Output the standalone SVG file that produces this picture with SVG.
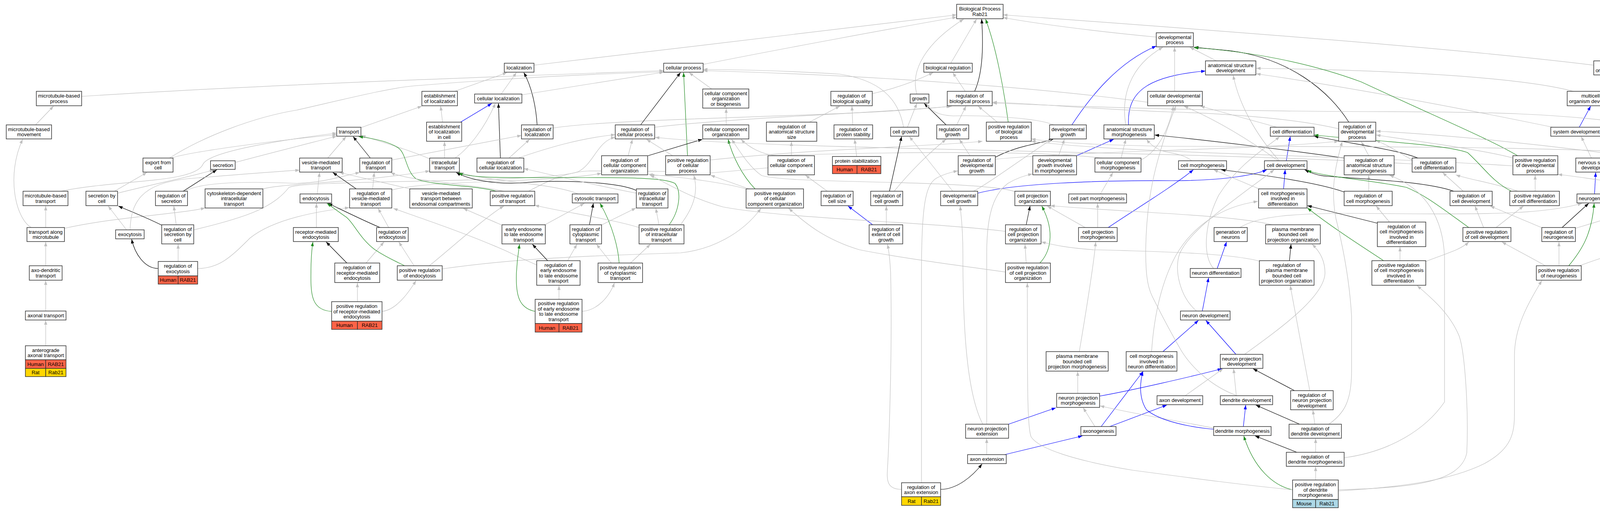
<svg xmlns="http://www.w3.org/2000/svg" width="4517" height="1312" viewBox="0 0 4517 1312">
<style>
text{font-family:"Liberation Sans",Arial,sans-serif;font-size:13px;text-anchor:middle;fill:#000}
.n rect{fill:#fff;stroke:#333;stroke-width:1.5}
.n rect.h{fill:#ff6347}
.n rect.r{fill:#ffd700}
.n rect.m{fill:#add8e6}
#edges path{fill:none;stroke-width:1.2}
#edges .e{stroke:#c0c0c0;marker-end:url(#ag)}
#edges .k{stroke:#000;marker-end:url(#ak)}
#edges .g{stroke:#228b22;marker-end:url(#agr)}
#edges .b{stroke:#0000ff;marker-end:url(#ab)}
</style>
<defs>
<marker id="ag" viewBox="0 0 11 8" refX="11" refY="4" markerWidth="11" markerHeight="8" markerUnits="userSpaceOnUse" orient="auto"><path d="M0,0L11,4L0,8z" fill="#c0c0c0"/></marker>
<marker id="ak" viewBox="0 0 11 8" refX="11" refY="4" markerWidth="11" markerHeight="8" markerUnits="userSpaceOnUse" orient="auto"><path d="M0,0L11,4L0,8z" fill="#000"/></marker>
<marker id="agr" viewBox="0 0 11 8" refX="11" refY="4" markerWidth="11" markerHeight="8" markerUnits="userSpaceOnUse" orient="auto"><path d="M0,0L11,4L0,8z" fill="#228b22"/></marker>
<marker id="ab" viewBox="0 0 11 8" refX="11" refY="4" markerWidth="11" markerHeight="8" markerUnits="userSpaceOnUse" orient="auto"><path d="M0,0L11,4L0,8z" fill="#0000ff"/></marker>
</defs>
<rect width="4517" height="1312" fill="#fff"/>
<g id="edges">
<path class="e" d="M209,247 C700,215 1400,192 1699,181"/>
<path class="e" d="M91,320 L137,272"/>
<path class="e" d="M80,583 C40,560 15,450 58,357"/>
<path class="e" d="M117,583 L117,528"/>
<path class="e" d="M165,585 C300,555 450,550 525,533"/>
<path class="e" d="M117,681 L117,620"/>
<path class="e" d="M117,797 L117,719"/>
<path class="e" d="M117,886 L117,821"/>
<path class="e" d="M324,589 L277,528"/>
<path class="k" d="M414,577 C370,555 330,540 303,528"/>
<path class="e" d="M451,576 L445,528"/>
<path class="e" d="M456,670 L456,626"/>
<path class="k" d="M405,688 C370,688 345,650 337,613"/>
<path class="e" d="M506,688 C560,688 590,660 640,610 C690,570 780,545 894,532"/>
<path class="e" d="M496,589 C640,555 700,530 740,480 C780,460 1400,470 1480,440 C1520,420 1530,360 1575,352"/>
<path class="k" d="M469,490 L555,435"/>
<path class="e" d="M475,489 C520,465 650,465 760,470 C830,468 880,450 921,442"/>
<path class="e" d="M293,490 L376,442"/>
<path class="e" d="M301,495 C400,470 500,450 548,435"/>
<path class="e" d="M434,405 C520,350 650,300 760,282 C900,250 1000,225 1060,220 C1300,200 1500,190 1699,184"/>
<path class="e" d="M439,405 C480,390 700,360 862,345"/>
<path class="e" d="M603,416 C700,390 800,365 862,349"/>
<path class="e" d="M333,589 C335,520 360,470 480,458 C600,448 700,440 767,436"/>
<path class="e" d="M155,490 C300,460 500,470 520,420 C540,385 750,355 862,341"/>
<path class="e" d="M673,484 C720,470 900,470 1100,438"/>
<path class="e" d="M1164,234 L1298,186"/>
<path class="e" d="M1283,241 L1322,186"/>
<path class="k" d="M1375,320 C1372,270 1360,220 1341,186"/>
<path class="e" d="M1416,328 C1600,300 2200,300 2434,272"/>
<path class="e" d="M1367,167 C1700,130 2200,65 2449,38"/>
<path class="e" d="M1336,243 C1450,225 1600,200 1699,185"/>
<path class="e" d="M924,327 L1080,272"/>
<path class="e" d="M1133,313 L1128,272"/>
<path class="b" d="M1179,313 L1259,265"/>
<path class="e" d="M1138,405 L1138,363"/>
<path class="e" d="M1165,405 C1200,380 1240,330 1268,265"/>
<path class="e" d="M1100,407 C1050,385 980,365 925,347"/>
<path class="k" d="M1281,405 L1276,265"/>
<path class="e" d="M1303,405 L1356,357"/>
<path class="e" d="M1329,404 C1400,380 1480,355 1575,345"/>
<path class="e" d="M839,405 L886,350"/>
<path class="k" d="M948,405 L904,350"/>
<path class="e" d="M1003,410 L1335,347"/>
<path class="e" d="M812,497 L818,442"/>
<path class="k" d="M912,484 L852,442"/>
<path class="e" d="M954,484 L958,442"/>
<path class="e" d="M1003,487 C1100,460 1400,470 1540,444"/>
<path class="e" d="M1050,484 L869,442"/>
<path class="g" d="M1271,490 C1220,475 1100,475 1065,458 C1040,440 1040,395 1021,380 C1000,365 960,355 918,350"/>
<path class="e" d="M1290,490 C1200,470 1050,465 1000,442"/>
<path class="e" d="M1353,490 C1400,465 1450,440 1510,438 C1650,438 1750,440 1818,440"/>
<path class="e" d="M1480,497 C1420,470 1250,465 1176,442"/>
<path class="e" d="M810,583 L810,521"/>
<path class="k" d="M973,583 C930,565 880,540 840,521"/>
<path class="e" d="M995,583 L968,534"/>
<path class="e" d="M1283,576 L1186,534"/>
<path class="e" d="M1395,576 L1496,521"/>
<path class="k" d="M1509,576 L1519,521"/>
<path class="e" d="M1541,576 L1628,533"/>
<path class="k" d="M888,674 L835,620"/>
<path class="e" d="M937,674 L983,620"/>
<path class="g" d="M849,798 C800,795 795,760 796,700 C796,660 798,640 801,620"/>
<path class="e" d="M915,773 L915,725"/>
<path class="e" d="M978,798 C1010,795 1040,760 1065,719"/>
<path class="g" d="M1036,681 C1010,668 990,660 960,640 C920,610 905,570 886,556 C870,545 850,530 837,521"/>
<path class="e" d="M1060,681 L1021,620"/>
<path class="e" d="M1099,681 C1150,640 1250,550 1290,528"/>
<path class="e" d="M1132,689 C1300,665 1450,657 1742,648 C1820,640 1900,600 1948,534"/>
<path class="k" d="M1402,668 L1363,626"/>
<path class="e" d="M1453,668 L1477,626"/>
<path class="e" d="M1374,679 C1350,668 1330,660 1300,645 C1200,600 1080,560 1007,534"/>
<path class="g" d="M1370,798 C1330,790 1320,760 1322,700 C1324,660 1328,640 1330,626"/>
<path class="e" d="M1431,767 L1431,732"/>
<path class="e" d="M1490,798 C1530,795 1560,760 1573,725"/>
<path class="g" d="M1585,674 C1583,640 1570,580 1536,521"/>
<path class="e" d="M1565,674 L1527,626"/>
<path class="e" d="M1614,674 L1665,626"/>
<path class="k" d="M1629,488 C1580,465 1420,460 1332,469 C1260,472 1200,460 1168,442"/>
<path class="e" d="M1629,495 C1500,470 1400,445 1341,432"/>
<path class="g" d="M1713,576 C1740,540 1745,490 1728,470 C1700,455 1600,455 1500,455 C1300,455 1200,458 1174,442"/>
<path class="e" d="M1687,576 L1679,534"/>
<path class="e" d="M1636,583 C1560,560 1450,545 1369,526"/>
<path class="e" d="M1742,576 C1785,520 1785,480 1776,449"/>
<path class="e" d="M1800,165 C2000,125 2300,70 2449,44"/>
<path class="e" d="M1822,228 L1764,186"/>
<path class="k" d="M1640,320 L1742,186"/>
<path class="g" d="M1760,399 L1750,186"/>
<path class="e" d="M1859,320 L1859,278"/>
<path class="k" d="M1659,399 L1798,357"/>
<path class="e" d="M1608,399 L1619,357"/>
<path class="e" d="M1722,399 L1655,357"/>
<path class="g" d="M1933,484 C1900,450 1875,400 1864,357"/>
<path class="e" d="M1910,484 C1860,470 1760,455 1660,447"/>
<path class="e" d="M1917,484 L1819,449"/>
<path class="e" d="M2072,313 L2150,272"/>
<path class="e" d="M2183,320 L2181,272"/>
<path class="e" d="M2193,401 L2188,357"/>
<path class="e" d="M2026,399 L2026,363"/>
<path class="e" d="M1966,430 C1850,440 1720,455 1664,448"/>
<path class="e" d="M2118,490 L2062,449"/>
<path class="b" d="M2234,576 L2171,528"/>
<path class="e" d="M1676,326 C1900,300 2250,290 2437,272"/>
<path class="e" d="M1818,410 C2100,380 2400,375 2515,362"/>
<path class="e" d="M2434,162 L2500,49"/>
<path class="e" d="M2471,234 L2439,186"/>
<path class="e" d="M2233,240 C2300,225 2350,205 2389,186"/>
<path class="e" d="M2347,241 C2330,180 2370,110 2467,49"/>
<path class="k" d="M2495,234 C2515,190 2518,120 2513,49"/>
<path class="g" d="M2581,313 C2570,230 2550,120 2523,49"/>
<path class="e" d="M2323,326 L2347,265"/>
<path class="e" d="M2313,326 C2300,250 2250,205 2150,190 C2000,180 1850,178 1800,178"/>
<path class="k" d="M2422,320 L2366,265"/>
<path class="e" d="M2449,320 L2473,272"/>
<path class="e" d="M2553,313 L2504,272"/>
<path class="e" d="M2698,320 C2650,300 2500,295 2440,297 C2400,295 2385,285 2371,265"/>
<path class="b" d="M2744,320 C2790,250 2860,160 2960,118"/>
<path class="b" d="M2889,320 C2885,240 2930,195 3086,182"/>
<path class="e" d="M2882,320 C2870,250 2890,170 2977,121"/>
<path class="e" d="M2483,399 L2456,357"/>
<path class="k" d="M2548,403 C2600,375 2650,370 2696,357"/>
<path class="e" d="M2548,408 C2800,385 3200,385 3427,362"/>
<path class="e" d="M2710,399 L2725,357"/>
<path class="b" d="M2756,399 L2851,357"/>
<path class="e" d="M2870,405 L2882,357"/>
<path class="e" d="M2822,405 C2600,380 2100,395 1990,398 C1950,398 1915,375 1897,357"/>
<path class="e" d="M2921,410 C2960,390 2990,340 3004,272"/>
<path class="e" d="M2439,490 L2328,350"/>
<path class="e" d="M2492,490 C2530,470 2590,425 2692,357"/>
<path class="b" d="M2503,495 C2600,470 2800,462 3000,463 C3150,463 3220,445 3243,435"/>
<path class="e" d="M2601,492 C2560,476 2400,470 2260,467 C2050,462 1985,459 1950,450 C1920,430 1895,390 1873,357"/>
<path class="e" d="M2817,497 L2849,442"/>
<path class="k" d="M2627,576 L2637,528"/>
<path class="e" d="M2574,593 C2400,570 2000,560 1850,530 C1760,505 1700,465 1664,449"/>
<path class="e" d="M2810,583 L2810,521"/>
<path class="e" d="M2778,583 L2681,528"/>
<path class="b" d="M2837,583 C2900,540 3000,480 3055,435"/>
<path class="g" d="M2662,674 C2685,650 2705,600 2667,528"/>
<path class="e" d="M2627,674 L2624,626"/>
<path class="e" d="M2574,697 C2450,680 2300,660 2200,640 C2100,610 2050,560 2019,534"/>
<path class="e" d="M2763,901 C2780,800 2800,680 2805,620"/>
<path class="e" d="M2948,901 C2955,800 2975,720 3010,655 C3050,585 3120,530 3220,516"/>
<path class="b" d="M2977,901 L3068,821"/>
<path class="e" d="M2759,1008 L2759,952"/>
<path class="b" d="M2815,1015 C2900,1000 3050,965 3128,945"/>
<path class="e" d="M3034,1014 L3131,945"/>
<path class="b" d="M2582,1087 L2703,1045"/>
<path class="e" d="M2516,1087 C2470,1000 2465,800 2465,650 C2465,580 2460,550 2458,528"/>
<path class="e" d="M2526,1087 L2526,650 C2526,560 2540,500 2580,470 C2600,458 2620,450 2643,446"/>
<path class="e" d="M2803,1093 L2773,1045"/>
<path class="b" d="M2841,1093 L2987,1038"/>
<path class="b" d="M2819,1093 L2926,952"/>
<path class="e" d="M2526,1165 L2526,1124"/>
<path class="b" d="M2572,1165 L2771,1117"/>
<path class="k" d="M2408,1254 C2450,1254 2490,1220 2514,1189"/>
<path class="e" d="M2359,1237 L2359,700 C2359,520 2370,470 2400,455 C2420,445 2440,440 2452,438"/>
<path class="e" d="M2308,1254 C2270,1254 2270,1230 2272,1200 C2275,1150 2285,900 2280,700 C2278,660 2275,640 2272,626"/>
<path class="e" d="M2960,95 C2800,80 2650,60 2568,45"/>
<path class="e" d="M4080,167 C3700,120 3000,70 2568,38"/>
<path class="e" d="M3114,156 L3046,121"/>
<path class="e" d="M3007,234 L3007,121"/>
<path class="e" d="M2938,262 C2700,230 2300,195 1800,181"/>
<path class="e" d="M3269,326 L3073,272"/>
<path class="k" d="M3453,313 C3400,230 3300,150 3150,130 C3100,125 3070,122 3057,121"/>
<path class="e" d="M3427,330 C3300,300 3100,290 3000,287 C2800,280 2650,265 2541,262"/>
<path class="e" d="M3051,412 C3030,395 3000,393 2980,388 C2960,382 2945,370 2935,357"/>
<path class="b" d="M3293,412 L3303,350"/>
<path class="e" d="M3272,412 C3200,360 3120,310 3031,272"/>
<path class="e" d="M3275,412 C3210,340 3170,260 3157,193"/>
<path class="k" d="M3441,405 C3300,385 3100,360 2956,346"/>
<path class="e" d="M3504,399 L3485,363"/>
<path class="k" d="M3630,405 C3580,385 3500,375 3364,349"/>
<path class="e" d="M3615,410 C3580,390 3550,370 3522,360"/>
<path class="e" d="M3615,420 C3000,385 2000,385 1677,352"/>
<path class="b" d="M3286,484 L3290,435"/>
<path class="e" d="M3223,484 L3107,435"/>
<path class="k" d="M3441,492 C3380,470 3250,450 3126,435"/>
<path class="e" d="M3504,490 L3504,449"/>
<path class="k" d="M3722,490 C3654,467 3533,461 3400,452 C3370,450 3355,442 3340,435"/>
<path class="e" d="M3746,490 L3693,442"/>
<path class="e" d="M3174,583 C3220,555 3300,545 3500,547 C3800,550 3950,550 4050,521"/>
<path class="e" d="M3257,576 C3150,550 2900,545 2689,527"/>
<path class="k" d="M3526,572 L3347,527"/>
<path class="e" d="M3557,569 L3523,528"/>
<path class="g" d="M3760,583 C3700,540 3650,500 3600,480 C3500,460 3400,455 3346,437"/>
<path class="e" d="M3798,583 L3776,528"/>
<path class="e" d="M3830,583 L3900,528"/>
<path class="b" d="M3116,688 L3140,620"/>
<path class="e" d="M3107,688 C3080,660 3080,580 3120,500 C3170,420 3240,380 3276,350"/>
<path class="k" d="M3301,668 L3305,626"/>
<path class="e" d="M3224,669 C3150,650 3000,645 2800,640 C2730,635 2700,628 2666,620"/>
<path class="g" d="M3542,668 C3500,640 3420,590 3347,533"/>
<path class="e" d="M3584,668 L3584,633"/>
<path class="e" d="M3650,670 C3700,650 3740,640 3760,620"/>
<path class="b" d="M3078,797 L3094,712"/>
<path class="e" d="M3063,797 C3020,760 3005,690 3020,650 C3045,590 3150,520 3262,435"/>
<path class="b" d="M3164,908 L3087,821"/>
<path class="e" d="M3186,908 C3280,840 3390,760 3392,700 C3392,670 3380,645 3359,626"/>
<path class="e" d="M3165,1014 L3158,945"/>
<path class="e" d="M3167,1014 C3100,990 3050,940 3025,900 C3000,857 2970,800 2950,760 C2935,730 2933,690 2933,640 C2935,500 2960,420 2985,340 C2995,310 3003,290 3010,272"/>
<path class="k" d="M3314,1001 L3208,945"/>
<path class="e" d="M3353,1001 L3303,732"/>
<path class="b" d="M3183,1093 L3189,1038"/>
<path class="e" d="M3107,1097 C3050,1085 2900,1060 2816,1040"/>
<path class="b" d="M3107,1100 C3050,1095 2970,1080 2935,1050 C2915,1020 2918,980 2926,952"/>
<path class="k" d="M3327,1087 L3215,1038"/>
<path class="e" d="M3366,1087 L3361,1051"/>
<path class="e" d="M3402,1087 C3440,1060 3460,1030 3460,950 L3460,810 C3455,720 3440,640 3420,560 C3405,480 3420,420 3436,363"/>
<path class="k" d="M3320,1159 L3213,1117"/>
<path class="e" d="M3368,1159 L3368,1124"/>
<path class="e" d="M3441,1173 C3560,1157 3650,1100 3698,1030 L3698,660 C3695,560 3650,484 3557,449"/>
<path class="g" d="M3309,1255 C3260,1245 3210,1200 3184,1117"/>
<path class="e" d="M3368,1230 L3368,1196"/>
<path class="e" d="M3309,1255 C3200,1245 3050,1225 2900,1205 C2750,1180 2660,1150 2640,1120 C2630,1100 2630,1000 2630,725"/>
<path class="e" d="M3426,1255 C3600,1250 3740,1240 3755,1160 C3760,1050 3750,900 3735,860 C3710,800 3660,760 3628,732"/>
<path class="e" d="M3426,1258 C3600,1248 3720,1228 3800,1188 C3870,1150 3877,1110 3877,1060 L3877,912 C3877,840 3910,780 3947,719"/>
<path class="e" d="M4096,234 L4128,193"/>
<path class="e" d="M4028,234 C3900,200 3600,180 3216,175"/>
<path class="b" d="M4043,326 L4072,272"/>
<path class="e" d="M3975,326 C3800,290 3500,230 3216,189"/>
<path class="k" d="M4242,313 L4157,193"/>
<path class="e" d="M4197,320 C4000,290 3800,286 3500,286 C3000,284 2700,270 2541,264"/>
<path class="e" d="M3874,405 C3800,385 3650,365 3523,346"/>
<path class="g" d="M3885,399 C3820,360 3700,310 3485,210 C3350,160 3200,132 3056,122"/>
<path class="e" d="M3873,425 C3400,395 2900,395 2640,362"/>
<path class="e" d="M4074,405 L4048,350"/>
<path class="k" d="M4215,399 C4190,380 4160,340 4101,272"/>
<path class="e" d="M4259,399 L4259,363"/>
<path class="e" d="M4183,402 C3950,370 3700,345 3523,336"/>
<path class="g" d="M4422,399 C4380,330 4300,260 4179,193"/>
<path class="e" d="M4385,399 L4314,363"/>
<path class="e" d="M4378,403 C4100,375 3500,375 3000,375 C2800,372 2700,365 2640,356"/>
<path class="e" d="M3886,490 C3830,470 3760,460 3727,448"/>
<path class="g" d="M3869,490 C3820,465 3800,430 3757,391 C3700,370 3500,360 3364,346"/>
<path class="e" d="M3930,490 L3930,449"/>
<path class="b" d="M4082,497 L4085,442"/>
<path class="k" d="M4221,484 L4137,444"/>
<path class="e" d="M4268,484 L4264,449"/>
<path class="k" d="M3999,583 L4067,521"/>
<path class="e" d="M4033,585 L4220,529"/>
<path class="e" d="M3946,583 L3815,528"/>
<path class="e" d="M4273,576 L4273,534"/>
<path class="g" d="M4314,576 C4350,530 4360,480 4330,462 C4300,455 4200,455 4137,443"/>
<path class="e" d="M4334,579 C4380,550 4420,500 4433,449"/>
<path class="e" d="M4239,576 C4200,520 4180,470 4100,462 C4050,455 4020,450 3988,447"/>
<path class="e" d="M3991,681 L3991,620"/>
<path class="g" d="M4016,681 C4050,640 4075,600 4081,521"/>
<path class="e" d="M4043,681 C4100,660 4180,635 4213,623"/>
<path class="e" d="M3956,681 C3920,660 3880,640 3845,620"/>
<path class="k" d="M2277,490 L2308,350"/>
<path class="e" d="M2289,490 C2330,440 2380,390 2422,357"/>
<path class="e" d="M2269,576 L2269,528"/>
</g>
<g id="n1" class="n"><rect x="93" y="234" width="116" height="37"/><text x="151" y="250.25"><tspan x="151">microtubule-based</tspan><tspan x="151" dy="13.5">process</tspan></text></g>
<g id="n2" class="n"><rect x="16" y="320" width="116" height="36"/><text x="74" y="335.75"><tspan x="74">microtubule-based</tspan><tspan x="74" dy="13.5">movement</tspan></text></g>
<g id="n3" class="n"><rect x="366" y="405" width="77" height="36"/><text x="404.5" y="420.75"><tspan x="404.5">export from</tspan><tspan x="404.5" dy="13.5">cell</tspan></text></g>
<g id="n4" class="n"><rect x="539" y="412" width="63" height="22"/><text x="570.5" y="427.5">secretion</text></g>
<g id="n5" class="n"><rect x="59" y="490" width="115" height="37"/><text x="116.5" y="506.25"><tspan x="116.5">microtubule-based</tspan><tspan x="116.5" dy="13.5">transport</tspan></text></g>
<g id="n6" class="n"><rect x="220" y="490" width="81" height="37"/><text x="260.5" y="506.25"><tspan x="260.5">secretion by</tspan><tspan x="260.5" dy="13.5">cell</tspan></text></g>
<g id="n7" class="n"><rect x="398" y="490" width="82" height="37"/><text x="439" y="506.25"><tspan x="439">regulation of</tspan><tspan x="439" dy="13.5">secretion</tspan></text></g>
<g id="n8" class="n"><rect x="525" y="484" width="148" height="49"/><text x="599" y="499.5"><tspan x="599">cytoskeleton-dependent</tspan><tspan x="599" dy="13.5">intracellular</tspan><tspan x="599" dy="13.5">transport</tspan></text></g>
<g id="n9" class="n"><rect x="69" y="583" width="96" height="36"/><text x="117" y="598.75"><tspan x="117">transport along</tspan><tspan x="117" dy="13.5">microtubule</tspan></text></g>
<g id="n10" class="n"><rect x="296" y="589" width="73" height="23"/><text x="332.5" y="605">exocytosis</text></g>
<g id="n11" class="n"><rect x="414" y="576" width="82" height="49"/><text x="455" y="591.5"><tspan x="455">regulation of</tspan><tspan x="455" dy="13.5">secretion by</tspan><tspan x="455" dy="13.5">cell</tspan></text></g>
<g id="n12" class="n"><rect x="75" y="681" width="84" height="37"/><text x="117" y="697.25"><tspan x="117">axo-dendritic</tspan><tspan x="117" dy="13.5">transport</tspan></text></g>
<g id="n13" class="n"><rect x="65" y="797" width="104" height="23"/><text x="117" y="813">axonal transport</text></g>
<g id="n14" class="n"><rect x="65" y="886" width="104" height="36"/><rect class="h" x="65" y="922" width="52" height="22"/><rect class="h" x="117" y="922" width="52" height="22"/><rect class="r" x="65" y="944" width="52" height="21"/><rect class="r" x="117" y="944" width="52" height="21"/><text x="117" y="901.75"><tspan x="117">anterograde</tspan><tspan x="117" dy="13.5">axonal transport</tspan></text><text x="91" y="937.5">Human</text><text x="143" y="937.5">RAB21</text><text x="91" y="959">Rat</text><text x="143" y="959">Rab21</text></g>
<g id="n15" class="n"><rect x="405" y="670" width="101" height="37"/><rect class="h" x="405" y="707" width="51" height="21"/><rect class="h" x="456" y="707" width="50" height="21"/><text x="455.5" y="686.25"><tspan x="455.5">regulation of</tspan><tspan x="455.5" dy="13.5">exocytosis</tspan></text><text x="430.5" y="722">Human</text><text x="481" y="722">RAB21</text></g>
<g id="n16" class="n"><rect x="1291" y="162" width="76" height="23"/><text x="1329" y="178">localization</text></g>
<g id="n17" class="n"><rect x="1080" y="234" width="91" height="37"/><text x="1125.5" y="250.25"><tspan x="1125.5">establishment</tspan><tspan x="1125.5" dy="13.5">of localization</tspan></text></g>
<g id="n18" class="n"><rect x="1215" y="241" width="121" height="23"/><text x="1275.5" y="257">cellular localization</text></g>
<g id="n19" class="n"><rect x="862" y="326" width="62" height="23"/><text x="893" y="342">transport</text></g>
<g id="n20" class="n"><rect x="1092" y="313" width="90" height="49"/><text x="1137" y="328.5"><tspan x="1137">establishment</tspan><tspan x="1137" dy="13.5">of localization</tspan><tspan x="1137" dy="13.5">in cell</tspan></text></g>
<g id="n21" class="n"><rect x="1335" y="320" width="81" height="36"/><text x="1375.5" y="335.75"><tspan x="1375.5">regulation of</tspan><tspan x="1375.5" dy="13.5">localization</tspan></text></g>
<g id="n22" class="n"><rect x="767" y="405" width="109" height="36"/><text x="821.5" y="420.75"><tspan x="821.5">vesicle-mediated</tspan><tspan x="821.5" dy="13.5">transport</tspan></text></g>
<g id="n23" class="n"><rect x="921" y="405" width="82" height="36"/><text x="962" y="420.75"><tspan x="962">regulation of</tspan><tspan x="962" dy="13.5">transport</tspan></text></g>
<g id="n24" class="n"><rect x="1100" y="405" width="76" height="36"/><text x="1138" y="420.75"><tspan x="1138">intracellular</tspan><tspan x="1138" dy="13.5">transport</tspan></text></g>
<g id="n25" class="n"><rect x="1221" y="405" width="120" height="36"/><text x="1281" y="420.75"><tspan x="1281">regulation of</tspan><tspan x="1281" dy="13.5">cellular localization</tspan></text></g>
<g id="n26" class="n"><rect x="768" y="497" width="81" height="23"/><text x="808.5" y="513">endocytosis</text></g>
<g id="n27" class="n"><rect x="895" y="484" width="108" height="49"/><text x="949" y="499.5"><tspan x="949">regulation of</tspan><tspan x="949" dy="13.5">vesicle-mediated</tspan><tspan x="949" dy="13.5">transport</tspan></text></g>
<g id="n28" class="n"><rect x="1049" y="484" width="160" height="49"/><text x="1129" y="499.5"><tspan x="1129">vesicle-mediated</tspan><tspan x="1129" dy="13.5">transport between</tspan><tspan x="1129" dy="13.5">endosomal compartments</tspan></text></g>
<g id="n29" class="n"><rect x="1255" y="490" width="114" height="37"/><text x="1312" y="506.25"><tspan x="1312">positive regulation</tspan><tspan x="1312" dy="13.5">of transport</tspan></text></g>
<g id="n30" class="n"><rect x="1465" y="497" width="117" height="23"/><text x="1523.5" y="513">cytosolic transport</text></g>
<g id="n31" class="n"><rect x="751" y="583" width="115" height="36"/><text x="808.5" y="598.75"><tspan x="808.5">receptor-mediated</tspan><tspan x="808.5" dy="13.5">endocytosis</tspan></text></g>
<g id="n32" class="n"><rect x="964" y="583" width="81" height="36"/><text x="1004.5" y="598.75"><tspan x="1004.5">regulation of</tspan><tspan x="1004.5" dy="13.5">endocytosis</tspan></text></g>
<g id="n33" class="n"><rect x="1285" y="576" width="111" height="49"/><text x="1340.5" y="591.5"><tspan x="1340.5">early endosome</tspan><tspan x="1340.5" dy="13.5">to late endosome</tspan><tspan x="1340.5" dy="13.5">transport</tspan></text></g>
<g id="n34" class="n"><rect x="1459" y="576" width="81" height="49"/><text x="1499.5" y="591.5"><tspan x="1499.5">regulation of</tspan><tspan x="1499.5" dy="13.5">cytoplasmic</tspan><tspan x="1499.5" dy="13.5">transport</tspan></text></g>
<g id="n35" class="n"><rect x="857" y="674" width="115" height="50"/><text x="914.5" y="690"><tspan x="914.5">regulation of</tspan><tspan x="914.5" dy="13.5">receptor-mediated</tspan><tspan x="914.5" dy="13.5">endocytosis</tspan></text></g>
<g id="n36" class="n"><rect x="1017" y="681" width="115" height="37"/><text x="1074.5" y="697.25"><tspan x="1074.5">positive regulation</tspan><tspan x="1074.5" dy="13.5">of endocytosis</tspan></text></g>
<g id="n37" class="n"><rect x="849" y="773" width="129" height="50"/><rect class="h" x="849" y="823" width="66" height="21"/><rect class="h" x="915" y="823" width="63" height="21"/><text x="913.5" y="789"><tspan x="913.5">positive regulation</tspan><tspan x="913.5" dy="13.5">of receptor-mediated</tspan><tspan x="913.5" dy="13.5">endocytosis</tspan></text><text x="882" y="838">Human</text><text x="946.5" y="838">RAB21</text></g>
<g id="n38" class="n"><rect x="1374" y="668" width="111" height="63"/><text x="1429.5" y="683.75"><tspan x="1429.5">regulation of</tspan><tspan x="1429.5" dy="13.5">early endosome</tspan><tspan x="1429.5" dy="13.5">to late endosome</tspan><tspan x="1429.5" dy="13.5">transport</tspan></text></g>
<g id="n39" class="n"><rect x="1370" y="767" width="120" height="62"/><rect class="h" x="1370" y="829" width="61" height="22"/><rect class="h" x="1431" y="829" width="59" height="22"/><text x="1430" y="782.25"><tspan x="1430">positive regulation</tspan><tspan x="1430" dy="13.5">of early endosome</tspan><tspan x="1430" dy="13.5">to late endosome</tspan><tspan x="1430" dy="13.5">transport</tspan></text><text x="1400.5" y="844.5">Human</text><text x="1460.5" y="844.5">RAB21</text></g>
<g id="n40" class="n"><rect x="1699" y="162" width="101" height="23"/><text x="1749.5" y="178">cellular process</text></g>
<g id="n41" class="n"><rect x="1799" y="228" width="118" height="49"/><text x="1858" y="243.5"><tspan x="1858">cellular component</tspan><tspan x="1858" dy="13.5">organization</tspan><tspan x="1858" dy="13.5">or biogenesis</tspan></text></g>
<g id="n42" class="n"><rect x="2127" y="234" width="106" height="37"/><text x="2180" y="250.25"><tspan x="2180">regulation of</tspan><tspan x="2180" dy="13.5">biological quality</tspan></text></g>
<g id="n43" class="n"><rect x="1575" y="320" width="101" height="36"/><text x="1625.5" y="335.75"><tspan x="1625.5">regulation of</tspan><tspan x="1625.5" dy="13.5">cellular process</tspan></text></g>
<g id="n44" class="n"><rect x="1799" y="320" width="118" height="36"/><text x="1858" y="335.75"><tspan x="1858">cellular component</tspan><tspan x="1858" dy="13.5">organization</tspan></text></g>
<g id="n45" class="n"><rect x="1962" y="313" width="129" height="49"/><text x="2026.5" y="328.5"><tspan x="2026.5">regulation of</tspan><tspan x="2026.5" dy="13.5">anatomical structure</tspan><tspan x="2026.5" dy="13.5">size</tspan></text></g>
<g id="n46" class="n"><rect x="2135" y="320" width="99" height="36"/><text x="2184.5" y="335.75"><tspan x="2184.5">regulation of</tspan><tspan x="2184.5" dy="13.5">protein stability</tspan></text></g>
<g id="n47" class="n"><rect x="1540" y="399" width="118" height="49"/><text x="1599" y="414.5"><tspan x="1599">regulation of</tspan><tspan x="1599" dy="13.5">cellular component</tspan><tspan x="1599" dy="13.5">organization</tspan></text></g>
<g id="n48" class="n"><rect x="1704" y="399" width="114" height="49"/><text x="1761" y="414.5"><tspan x="1761">positive regulation</tspan><tspan x="1761" dy="13.5">of cellular</tspan><tspan x="1761" dy="13.5">process</tspan></text></g>
<g id="n49" class="n"><rect x="1966" y="399" width="119" height="49"/><text x="2025.5" y="414.5"><tspan x="2025.5">regulation of</tspan><tspan x="2025.5" dy="13.5">cellular component</tspan><tspan x="2025.5" dy="13.5">size</tspan></text></g>
<g id="n50" class="n"><rect x="2131" y="401" width="124" height="23"/><rect class="h" x="2131" y="424" width="63" height="21"/><rect class="h" x="2194" y="424" width="61" height="21"/><text x="2193" y="417">protein stabilization</text><text x="2162.5" y="439">Human</text><text x="2224.5" y="439">RAB21</text></g>
<g id="n51" class="n"><rect x="1629" y="484" width="81" height="49"/><text x="1669.5" y="499.5"><tspan x="1669.5">regulation of</tspan><tspan x="1669.5" dy="13.5">intracellular</tspan><tspan x="1669.5" dy="13.5">transport</tspan></text></g>
<g id="n52" class="n"><rect x="1910" y="484" width="147" height="49"/><text x="1983.5" y="499.5"><tspan x="1983.5">positive regulation</tspan><tspan x="1983.5" dy="13.5">of cellular</tspan><tspan x="1983.5" dy="13.5">component organization</tspan></text></g>
<g id="n53" class="n"><rect x="2102" y="490" width="82" height="37"/><text x="2143" y="506.25"><tspan x="2143">regulation of</tspan><tspan x="2143" dy="13.5">cell size</tspan></text></g>
<g id="n54" class="n"><rect x="1636" y="576" width="115" height="49"/><text x="1693.5" y="591.5"><tspan x="1693.5">positive regulation</tspan><tspan x="1693.5" dy="13.5">of intracellular</tspan><tspan x="1693.5" dy="13.5">transport</tspan></text></g>
<g id="n55" class="n"><rect x="2229" y="490" width="82" height="37"/><text x="2270" y="506.25"><tspan x="2270">regulation of</tspan><tspan x="2270" dy="13.5">cell growth</tspan></text></g>
<g id="n56" class="n"><rect x="2225" y="576" width="86" height="49"/><text x="2268" y="591.5"><tspan x="2268">regulation of</tspan><tspan x="2268" dy="13.5">extent of cell</tspan><tspan x="2268" dy="13.5">growth</tspan></text></g>
<g id="n57" class="n"><rect x="1531" y="674" width="114" height="50"/><text x="1588" y="690"><tspan x="1588">positive regulation</tspan><tspan x="1588" dy="13.5">of cytoplasmic</tspan><tspan x="1588" dy="13.5">transport</tspan></text></g>
<g id="n58" class="n"><rect x="2449" y="11" width="119" height="37"/><text x="2508.5" y="27.25"><tspan x="2508.5">Biological Process</tspan><tspan x="2508.5" dy="13.5">Rab21</tspan></text></g>
<g id="n59" class="n"><rect x="2365" y="162" width="124" height="23"/><text x="2427" y="178">biological regulation</text></g>
<g id="n60" class="n"><rect x="2330" y="241" width="48" height="23"/><text x="2354" y="257">growth</text></g>
<g id="n61" class="n"><rect x="2425" y="234" width="115" height="37"/><text x="2482.5" y="250.25"><tspan x="2482.5">regulation of</tspan><tspan x="2482.5" dy="13.5">biological process</tspan></text></g>
<g id="n62" class="n"><rect x="2280" y="326" width="72" height="23"/><text x="2316" y="342">cell growth</text></g>
<g id="n63" class="n"><rect x="2398" y="320" width="82" height="36"/><text x="2439" y="335.75"><tspan x="2439">regulation of</tspan><tspan x="2439" dy="13.5">growth</tspan></text></g>
<g id="n64" class="n"><rect x="2525" y="313" width="115" height="49"/><text x="2582.5" y="328.5"><tspan x="2582.5">positive regulation</tspan><tspan x="2582.5" dy="13.5">of biological</tspan><tspan x="2582.5" dy="13.5">process</tspan></text></g>
<g id="n65" class="n"><rect x="2687" y="320" width="94" height="36"/><text x="2734" y="335.75"><tspan x="2734">developmental</tspan><tspan x="2734" dy="13.5">growth</tspan></text></g>
<g id="n66" class="n"><rect x="2826" y="320" width="129" height="36"/><text x="2890.5" y="335.75"><tspan x="2890.5">anatomical structure</tspan><tspan x="2890.5" dy="13.5">morphogenesis</tspan></text></g>
<g id="n67" class="n"><rect x="2453" y="399" width="95" height="49"/><text x="2500.5" y="414.5"><tspan x="2500.5">regulation of</tspan><tspan x="2500.5" dy="13.5">developmental</tspan><tspan x="2500.5" dy="13.5">growth</tspan></text></g>
<g id="n68" class="n"><rect x="2644" y="399" width="112" height="49"/><text x="2700" y="414.5"><tspan x="2700">developmental</tspan><tspan x="2700" dy="13.5">growth involved</tspan><tspan x="2700" dy="13.5">in morphogenesis</tspan></text></g>
<g id="n69" class="n"><rect x="2803" y="405" width="118" height="36"/><text x="2862" y="420.75"><tspan x="2862">cellular component</tspan><tspan x="2862" dy="13.5">morphogenesis</tspan></text></g>
<g id="n70" class="n"><rect x="2408" y="490" width="95" height="37"/><text x="2455.5" y="506.25"><tspan x="2455.5">developmental</tspan><tspan x="2455.5" dy="13.5">cell growth</tspan></text></g>
<g id="n71" class="n"><rect x="2598" y="490" width="91" height="37"/><text x="2643.5" y="506.25"><tspan x="2643.5">cell projection</tspan><tspan x="2643.5" dy="13.5">organization</tspan></text></g>
<g id="n72" class="n"><rect x="2736" y="497" width="148" height="23"/><text x="2810" y="513">cell part morphogenesis</text></g>
<g id="n73" class="n"><rect x="2574" y="576" width="91" height="49"/><text x="2619.5" y="591.5"><tspan x="2619.5">regulation of</tspan><tspan x="2619.5" dy="13.5">cell projection</tspan><tspan x="2619.5" dy="13.5">organization</tspan></text></g>
<g id="n74" class="n"><rect x="2761" y="583" width="99" height="36"/><text x="2810.5" y="598.75"><tspan x="2810.5">cell projection</tspan><tspan x="2810.5" dy="13.5">morphogenesis</tspan></text></g>
<g id="n75" class="n"><rect x="2574" y="674" width="115" height="50"/><text x="2631.5" y="690"><tspan x="2631.5">positive regulation</tspan><tspan x="2631.5" dy="13.5">of cell projection</tspan><tspan x="2631.5" dy="13.5">organization</tspan></text></g>
<g id="n76" class="n"><rect x="2678" y="901" width="159" height="50"/><text x="2757.5" y="917"><tspan x="2757.5">plasma membrane</tspan><tspan x="2757.5" dy="13.5">bounded cell</tspan><tspan x="2757.5" dy="13.5">projection morphogenesis</tspan></text></g>
<g id="n77" class="n"><rect x="2883" y="901" width="130" height="50"/><text x="2948" y="917"><tspan x="2948">cell morphogenesis</tspan><tspan x="2948" dy="13.5">involved in</tspan><tspan x="2948" dy="13.5">neuron differentiation</tspan></text></g>
<g id="n78" class="n"><rect x="2705" y="1008" width="110" height="36"/><text x="2760" y="1023.75"><tspan x="2760">neuron projection</tspan><tspan x="2760" dy="13.5">morphogenesis</tspan></text></g>
<g id="n79" class="n"><rect x="2962" y="1014" width="117" height="23"/><text x="3020.5" y="1030">axon development</text></g>
<g id="n80" class="n"><rect x="2472" y="1087" width="110" height="36"/><text x="2527" y="1102.75"><tspan x="2527">neuron projection</tspan><tspan x="2527" dy="13.5">extension</tspan></text></g>
<g id="n81" class="n"><rect x="2767" y="1093" width="90" height="23"/><text x="2812" y="1109">axonogenesis</text></g>
<g id="n82" class="n"><rect x="2477" y="1165" width="99" height="23"/><text x="2526.5" y="1181">axon extension</text></g>
<g id="n83" class="n"><rect x="2308" y="1237" width="100" height="36"/><rect class="r" x="2308" y="1273" width="51" height="22"/><rect class="r" x="2359" y="1273" width="49" height="22"/><text x="2358" y="1252.75"><tspan x="2358">regulation of</tspan><tspan x="2358" dy="13.5">axon extension</tspan></text><text x="2333.5" y="1288.5">Rat</text><text x="2383.5" y="1288.5">Rab21</text></g>
<g id="n84" class="n"><rect x="2960" y="84" width="95" height="36"/><text x="3007.5" y="99.75"><tspan x="3007.5">developmental</tspan><tspan x="3007.5" dy="13.5">process</tspan></text></g>
<g id="n85" class="n"><rect x="3086" y="156" width="129" height="36"/><text x="3150.5" y="171.75"><tspan x="3150.5">anatomical structure</tspan><tspan x="3150.5" dy="13.5">development</tspan></text></g>
<g id="n86" class="n"><rect x="2938" y="234" width="140" height="37"/><text x="3008" y="250.25"><tspan x="3008">cellular developmental</tspan><tspan x="3008" dy="13.5">process</tspan></text></g>
<g id="n87" class="n"><rect x="3252" y="326" width="112" height="23"/><text x="3308" y="342">cell differentiation</text></g>
<g id="n88" class="n"><rect x="3427" y="313" width="95" height="49"/><text x="3474.5" y="328.5"><tspan x="3474.5">regulation of</tspan><tspan x="3474.5" dy="13.5">developmental</tspan><tspan x="3474.5" dy="13.5">process</tspan></text></g>
<g id="n89" class="n"><rect x="3017" y="412" width="123" height="22"/><text x="3078.5" y="427.5">cell morphogenesis</text></g>
<g id="n90" class="n"><rect x="3237" y="412" width="109" height="22"/><text x="3291.5" y="427.5">cell development</text></g>
<g id="n91" class="n"><rect x="3441" y="399" width="128" height="49"/><text x="3505" y="414.5"><tspan x="3505">regulation of</tspan><tspan x="3505" dy="13.5">anatomical structure</tspan><tspan x="3505" dy="13.5">morphogenesis</tspan></text></g>
<g id="n92" class="n"><rect x="3615" y="405" width="112" height="36"/><text x="3671" y="420.75"><tspan x="3671">regulation of</tspan><tspan x="3671" dy="13.5">cell differentiation</tspan></text></g>
<g id="n93" class="n"><rect x="3222" y="484" width="124" height="49"/><text x="3284" y="499.5"><tspan x="3284">cell morphogenesis</tspan><tspan x="3284" dy="13.5">involved in</tspan><tspan x="3284" dy="13.5">differentiation</tspan></text></g>
<g id="n94" class="n"><rect x="3441" y="490" width="123" height="37"/><text x="3502.5" y="506.25"><tspan x="3502.5">regulation of</tspan><tspan x="3502.5" dy="13.5">cell morphogenesis</tspan></text></g>
<g id="n95" class="n"><rect x="3712" y="490" width="108" height="37"/><text x="3766" y="506.25"><tspan x="3766">regulation of</tspan><tspan x="3766" dy="13.5">cell development</tspan></text></g>
<g id="n96" class="n"><rect x="3108" y="583" width="85" height="36"/><text x="3150.5" y="598.75"><tspan x="3150.5">generation of</tspan><tspan x="3150.5" dy="13.5">neurons</tspan></text></g>
<g id="n97" class="n"><rect x="3240" y="576" width="140" height="49"/><text x="3310" y="591.5"><tspan x="3310">plasma membrane</tspan><tspan x="3310" dy="13.5">bounded cell</tspan><tspan x="3310" dy="13.5">projection organization</tspan></text></g>
<g id="n98" class="n"><rect x="3526" y="569" width="124" height="63"/><text x="3588" y="584.75"><tspan x="3588">regulation of</tspan><tspan x="3588" dy="13.5">cell morphogenesis</tspan><tspan x="3588" dy="13.5">involved in</tspan><tspan x="3588" dy="13.5">differentiation</tspan></text></g>
<g id="n99" class="n"><rect x="3745" y="583" width="123" height="36"/><text x="3806.5" y="598.75"><tspan x="3806.5">positive regulation</tspan><tspan x="3806.5" dy="13.5">of cell development</tspan></text></g>
<g id="n100" class="n"><rect x="3047" y="688" width="130" height="23"/><text x="3112" y="704">neuron differentiation</text></g>
<g id="n101" class="n"><rect x="3224" y="668" width="140" height="63"/><text x="3294" y="683.75"><tspan x="3294">regulation of</tspan><tspan x="3294" dy="13.5">plasma membrane</tspan><tspan x="3294" dy="13.5">bounded cell</tspan><tspan x="3294" dy="13.5">projection organization</tspan></text></g>
<g id="n102" class="n"><rect x="3512" y="668" width="138" height="63"/><text x="3581" y="683.75"><tspan x="3581">positive regulation</tspan><tspan x="3581" dy="13.5">of cell morphogenesis</tspan><tspan x="3581" dy="13.5">involved in</tspan><tspan x="3581" dy="13.5">differentiation</tspan></text></g>
<g id="n103" class="n"><rect x="3022" y="797" width="127" height="23"/><text x="3085.5" y="813">neuron development</text></g>
<g id="n104" class="n"><rect x="3124" y="908" width="109" height="36"/><text x="3178.5" y="923.75"><tspan x="3178.5">neuron projection</tspan><tspan x="3178.5" dy="13.5">development</tspan></text></g>
<g id="n105" class="n"><rect x="3124" y="1014" width="134" height="23"/><text x="3191" y="1030">dendrite development</text></g>
<g id="n106" class="n"><rect x="3304" y="1001" width="109" height="49"/><text x="3358.5" y="1016.5"><tspan x="3358.5">regulation of</tspan><tspan x="3358.5" dy="13.5">neuron projection</tspan><tspan x="3358.5" dy="13.5">development</tspan></text></g>
<g id="n107" class="n"><rect x="3107" y="1093" width="147" height="23"/><text x="3180.5" y="1109">dendrite morphogenesis</text></g>
<g id="n108" class="n"><rect x="3300" y="1087" width="134" height="36"/><text x="3367" y="1102.75"><tspan x="3367">regulation of</tspan><tspan x="3367" dy="13.5">dendrite development</tspan></text></g>
<g id="n109" class="n"><rect x="3293" y="1159" width="148" height="36"/><text x="3367" y="1174.75"><tspan x="3367">regulation of</tspan><tspan x="3367" dy="13.5">dendrite morphogenesis</tspan></text></g>
<g id="n110" class="n"><rect x="3309" y="1230" width="117" height="50"/><rect class="m" x="3309" y="1280" width="59" height="21"/><rect class="m" x="3368" y="1280" width="58" height="21"/><text x="3367.5" y="1246"><tspan x="3367.5">positive regulation</tspan><tspan x="3367.5" dy="13.5">of dendrite</tspan><tspan x="3367.5" dy="13.5">morphogenesis</tspan></text><text x="3338.5" y="1295">Mouse</text><text x="3397" y="1295">Rab21</text></g>
<g id="n111" class="n"><rect x="4080" y="156" width="122" height="36"/><text x="4141" y="171.75"><tspan x="4141">multicellular</tspan><tspan x="4141" dy="13.5">organismal process</tspan></text></g>
<g id="n112" class="n"><rect x="4012" y="234" width="141" height="37"/><text x="4082.5" y="250.25"><tspan x="4082.5">multicellular</tspan><tspan x="4082.5" dy="13.5">organism development</tspan></text></g>
<g id="n113" class="n"><rect x="3970" y="326" width="131" height="23"/><text x="4035.5" y="342">system development</text></g>
<g id="n114" class="n"><rect x="4197" y="313" width="123" height="49"/><text x="4258.5" y="328.5"><tspan x="4258.5">regulation of</tspan><tspan x="4258.5" dy="13.5">multicellular</tspan><tspan x="4258.5" dy="13.5">organismal process</tspan></text></g>
<g id="n115" class="n"><rect x="3873" y="399" width="115" height="49"/><text x="3930.5" y="414.5"><tspan x="3930.5">positive regulation</tspan><tspan x="3930.5" dy="13.5">of developmental</tspan><tspan x="3930.5" dy="13.5">process</tspan></text></g>
<g id="n116" class="n"><rect x="4034" y="405" width="103" height="36"/><text x="4085.5" y="420.75"><tspan x="4085.5">nervous system</tspan><tspan x="4085.5" dy="13.5">development</tspan></text></g>
<g id="n117" class="n"><rect x="4183" y="399" width="150" height="49"/><text x="4258" y="414.5"><tspan x="4258">regulation of</tspan><tspan x="4258" dy="13.5">multicellular</tspan><tspan x="4258" dy="13.5">organismal development</tspan></text></g>
<g id="n118" class="n"><rect x="4378" y="399" width="123" height="49"/><text x="4439.5" y="414.5"><tspan x="4439.5">positive regulation</tspan><tspan x="4439.5" dy="13.5">of multicellular</tspan><tspan x="4439.5" dy="13.5">organismal process</tspan></text></g>
<g id="n119" class="n"><rect x="3865" y="490" width="127" height="37"/><text x="3928.5" y="506.25"><tspan x="3928.5">positive regulation</tspan><tspan x="3928.5" dy="13.5">of cell differentiation</tspan></text></g>
<g id="n120" class="n"><rect x="4037" y="497" width="87" height="23"/><text x="4080.5" y="513">neurogenesis</text></g>
<g id="n121" class="n"><rect x="4221" y="484" width="103" height="49"/><text x="4272.5" y="499.5"><tspan x="4272.5">regulation of</tspan><tspan x="4272.5" dy="13.5">nervous system</tspan><tspan x="4272.5" dy="13.5">development</tspan></text></g>
<g id="n122" class="n"><rect x="3947" y="583" width="86" height="36"/><text x="3990" y="598.75"><tspan x="3990">regulation of</tspan><tspan x="3990" dy="13.5">neurogenesis</tspan></text></g>
<g id="n123" class="n"><rect x="4213" y="576" width="119" height="49"/><text x="4272.5" y="591.5"><tspan x="4272.5">positive regulation</tspan><tspan x="4272.5" dy="13.5">of nervous system</tspan><tspan x="4272.5" dy="13.5">development</tspan></text></g>
<g id="n124" class="n"><rect x="3933" y="681" width="115" height="37"/><text x="3990.5" y="697.25"><tspan x="3990.5">positive regulation</tspan><tspan x="3990.5" dy="13.5">of neurogenesis</tspan></text></g>
</svg>
